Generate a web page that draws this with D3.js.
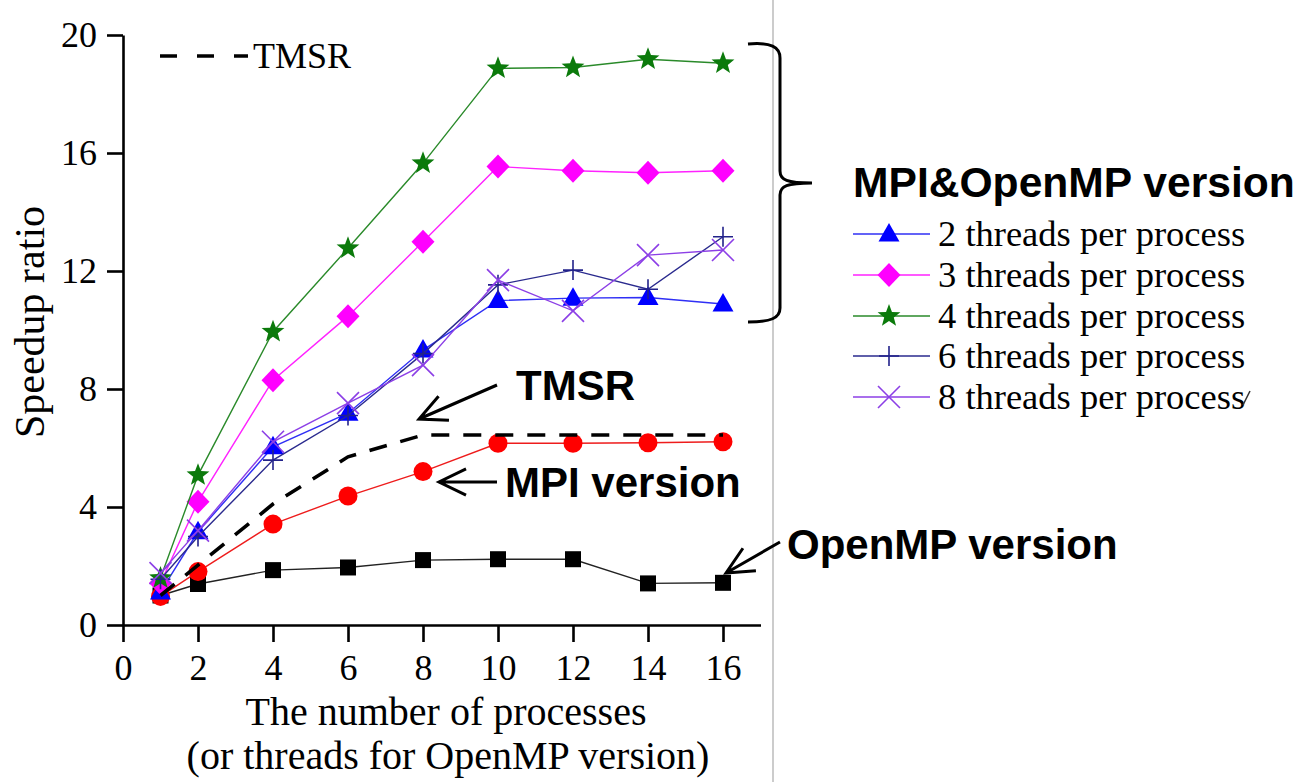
<!DOCTYPE html>
<html>
<head>
<meta charset="utf-8">
<script src="https://cdn.jsdelivr.net/npm/d3@7"></script>
<style>
  html, body { margin: 0; padding: 0; background: #fff; }
  svg { display: block; }
</style>
</head>
<body>
<svg id="chart" width="1299" height="782"></svg>
<script>
// Speedup ratio versus number of processes
const processes = [1, 2, 4, 6, 8, 10, 12, 14, 16];
const threads2 = [1.12, 3.16, 6.04, 7.18, 9.32, 11.0, 11.08, 11.1, 10.88];
const threads3 = [1.42, 4.18, 8.3, 10.47, 12.99, 15.54, 15.4, 15.33, 15.4];
const threads4 = [1.59, 5.08, 9.94, 12.77, 15.65, 18.87, 18.9, 19.18, 19.04];
const threads6 = [1.55, 3.0, 5.59, 7.1, 9.2, 11.53, 12.03, 11.38, 13.16];
const threads8 = [1.76, 3.2, 6.21, 7.52, 8.81, 11.69, 10.65, 12.54, 12.71];
const mpiVersion = [0.97, 1.81, 3.42, 4.37, 5.2, 6.16, 6.16, 6.18, 6.21];
const openmpVersion = [1.0, 1.39, 1.86, 1.95, 2.2, 2.23, 2.23, 1.41, 1.43];
const tmsr = [1.0, 2.03, 4.1, 5.7, 6.44, 6.44, 6.44, 6.44, 6.44];

const xTicks = [0, 2, 4, 6, 8, 10, 12, 14, 16];
const yTicks = [0, 4, 8, 12, 16, 20];

const legendLabels = [
  "2 threads per process",
  "3 threads per process",
  "4 threads per process",
  "6 threads per process",
  "8 threads per process"
];

const serif = "'Liberation Serif', 'Times New Roman', serif";
const sans = "'Liberation Sans', Arial, sans-serif";

const svg = d3.select("#chart");

const x = d3.scaleLinear().domain([0, 17]).range([123, 760.5]);
const y = d3.scaleLinear().domain([0, 20]).range([625, 35]);

// figure divider
svg.append("line")
  .attr("x1", 773).attr("x2", 773).attr("y1", 0).attr("y2", 782)
  .attr("stroke", "#aaaaaa").attr("stroke-width", 1.2);

// axes
const xAxis = svg.append("g")
  .attr("transform", `translate(0,${y(0)})`)
  .call(d3.axisBottom(x).tickValues(xTicks).tickSize(17).tickSizeOuter(0).tickPadding(12));
const yAxis = svg.append("g")
  .attr("transform", `translate(${x(0)},0)`)
  .call(d3.axisLeft(y).tickValues(yTicks).tickSize(16).tickSizeOuter(0).tickPadding(10));

[xAxis, yAxis].forEach(g => {
  g.selectAll("path.domain").attr("stroke", "#000").attr("stroke-width", 2.6);
  g.selectAll(".tick line").attr("stroke", "#000").attr("stroke-width", 2.6);
  g.selectAll(".tick text")
    .attr("fill", "#000")
    .style("font-family", serif)
    .style("font-size", "36px");
});

// axis titles
svg.append("text")
  .attr("x", 446).attr("y", 725)
  .attr("text-anchor", "middle")
  .style("font-family", serif).style("font-size", "40px")
  .text("The number of processes");
svg.append("text")
  .attr("x", 448).attr("y", 769)
  .attr("text-anchor", "middle")
  .style("font-family", serif).style("font-size", "40px")
  .text("(or threads for OpenMP version)");
svg.append("text")
  .attr("transform", "translate(44,322) rotate(-90)")
  .attr("text-anchor", "middle")
  .style("font-family", serif).style("font-size", "42px")
  .text("Speedup ratio");

// marker shapes
function starPath(r) {
  const inner = r * 0.42;
  const pts = [];
  for (let i = 0; i < 10; i++) {
    const a = -Math.PI / 2 + i * Math.PI / 5;
    const rr = i % 2 === 0 ? r : inner;
    pts.push([rr * Math.cos(a), rr * Math.sin(a)]);
  }
  return "M" + pts.map(p => p.join(",")).join("L") + "Z";
}
const markers = {
  triangle: g => g.append("path").attr("d", "M0,-11L10.5,7.5L-10.5,7.5Z"),
  diamond: g => g.append("path").attr("d", "M0,-12L11.5,0L0,12L-11.5,0Z"),
  star: g => g.append("path").attr("d", starPath(12)),
  plus: g => g.append("path").attr("d", "M-10,0L10,0M0,-10L0,10").attr("fill", "none"),
  cross: g => g.append("path").attr("d", "M-11,-11L11,11M-11,11L11,-11").attr("fill", "none"),
  circle: g => g.append("circle").attr("r", 9.5),
  square: g => g.append("rect").attr("x", -8).attr("y", -8).attr("width", 16).attr("height", 16)
};

const line = d3.line().x(d => x(d.p)).y(d => y(d.v));

function styleMarker(m, marker, color) {
  if (marker === "plus" || marker === "cross") {
    m.attr("stroke", color).attr("stroke-width", 1.6);
  } else {
    m.attr("fill", color);
  }
}

function drawSeries(values, opts) {
  const data = processes.map((p, i) => ({ p, v: values[i] }));
  const g = svg.append("g");
  g.append("path").datum(data)
    .attr("d", line)
    .attr("fill", "none")
    .attr("stroke", opts.lineColor)
    .attr("stroke-width", opts.lineWidth || 1.4)
    .attr("stroke-dasharray", opts.dash || null);
  if (opts.marker) {
    data.forEach(d => {
      const mg = g.append("g").attr("transform", `translate(${x(d.p)},${y(d.v)})`);
      styleMarker(markers[opts.marker](mg), opts.marker, opts.color);
    });
  }
}

const hybrid = [
  { values: threads2, color: "#0000ff", lineColor: "#2f2ff5", marker: "triangle" },
  { values: threads3, color: "#ff00ff", lineColor: "#ff22ff", marker: "diamond" },
  { values: threads4, color: "#0b7a0b", lineColor: "#2a8a2a", marker: "star" },
  { values: threads6, color: "#22228a", lineColor: "#2a2a8e", marker: "plus" },
  { values: threads8, color: "#8c3fe6", lineColor: "#8c3fe6", marker: "cross" }
];

drawSeries(openmpVersion, { color: "#000", lineColor: "#222", marker: "square" });
drawSeries(mpiVersion, { color: "#ff0000", lineColor: "#ee1c1c", marker: "circle" });
hybrid.forEach(s => drawSeries(s.values, s));
drawSeries(tmsr, { lineColor: "#000", lineWidth: 3.6, dash: "18,14" });

// TMSR legend (top left)
svg.append("line")
  .attr("x1", 160).attr("x2", 248).attr("y1", 56).attr("y2", 56)
  .attr("stroke", "#000").attr("stroke-width", 3.6).attr("stroke-dasharray", "17,20");
svg.append("text")
  .attr("x", 253).attr("y", 68)
  .style("font-family", serif).style("font-size", "36px")
  .text("TMSR");

// brace grouping the hybrid series
svg.append("path")
  .attr("d", "M748,44 C771,42 780,47 780,58 L780,171 C780,180 787,183 812,183 C787,183 780,186 780,195 L780,308 C780,318 771,322 748,322")
  .attr("fill", "none").attr("stroke", "#000").attr("stroke-width", 3);

// hybrid legend
svg.append("text")
  .attr("x", 853).attr("y", 197)
  .style("font-family", sans).style("font-size", "42.6px").style("font-weight", "bold")
  .text("MPI&OpenMP version");

const rowY = [234, 275, 316, 356, 397];
hybrid.forEach((s, i) => {
  const g = svg.append("g");
  g.append("line")
    .attr("x1", 853).attr("x2", 930).attr("y1", rowY[i]).attr("y2", rowY[i])
    .attr("stroke", s.lineColor).attr("stroke-width", 1.6);
  const mg = g.append("g").attr("transform", `translate(889,${rowY[i]})`);
  styleMarker(markers[s.marker](mg), s.marker, s.color);
  g.append("text")
    .attr("x", 938).attr("y", rowY[i] + 12)
    .style("font-family", serif).style("font-size", "36.5px")
    .text(legendLabels[i]);
});
svg.append("line")
  .attr("x1", 1243).attr("y1", 405).attr("x2", 1250).attr("y2", 391)
  .attr("stroke", "#333").attr("stroke-width", 1.5);

// annotations with open arrowheads
function arrow(x1, y1, x2, y2) {
  const ang = Math.atan2(y2 - y1, x2 - x1);
  const len = 30, spread = 0.45;
  const a1 = ang + Math.PI - spread, a2 = ang + Math.PI + spread;
  svg.append("path")
    .attr("d", `M${x1},${y1}L${x2},${y2}` +
      `M${x2 + len * Math.cos(a1)},${y2 + len * Math.sin(a1)}L${x2},${y2}` +
      `L${x2 + len * Math.cos(a2)},${y2 + len * Math.sin(a2)}`)
    .attr("fill", "none").attr("stroke", "#000").attr("stroke-width", 3)
    .attr("stroke-linejoin", "miter");
}
function note(tx, ty, label) {
  svg.append("text")
    .attr("x", tx).attr("y", ty)
    .style("font-family", sans).style("font-size", "42px").style("font-weight", "bold")
    .text(label);
}

note(516, 400, "TMSR");
arrow(497, 385, 419, 419);
note(505, 497, "MPI version");
arrow(497, 482, 439, 482);
note(787, 559, "OpenMP version");
arrow(780, 542, 726, 573);
</script>
</body>
</html>
